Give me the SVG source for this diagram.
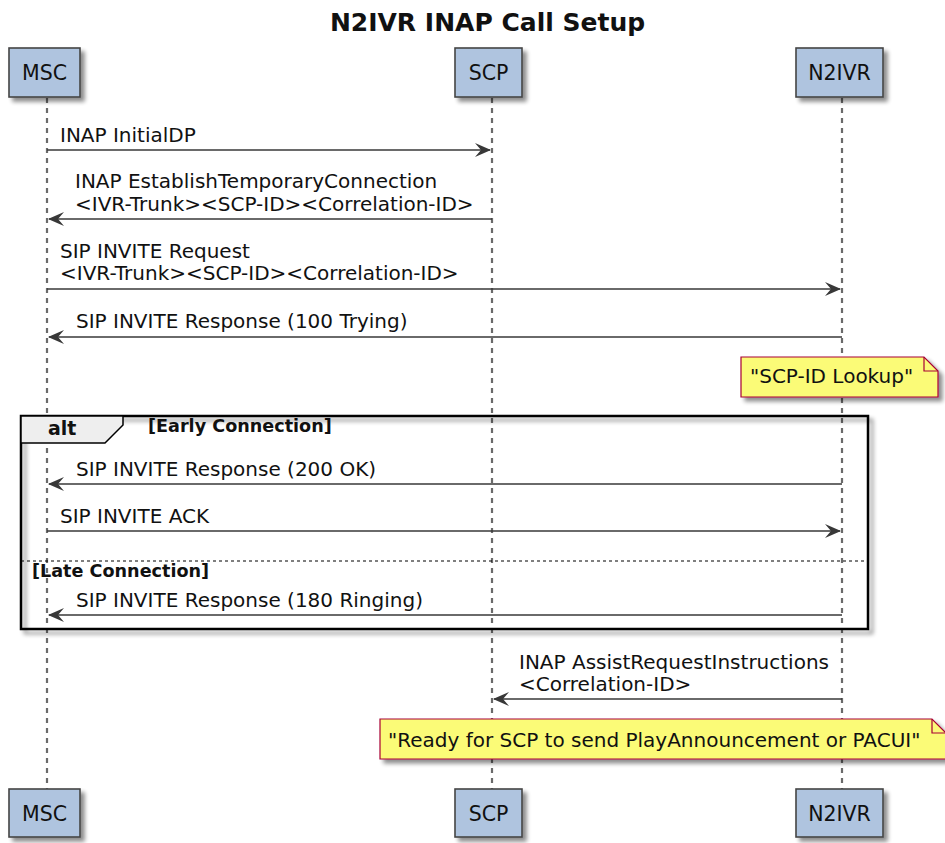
<svg xmlns="http://www.w3.org/2000/svg" width="945" height="843" viewBox="0 0 945 843">
<style>
text{font-family:"DejaVu Sans","Verdana",sans-serif;fill:#111}
.msg{font-size:20px}
.part{font-size:20.5px;text-anchor:middle}
.title{font-size:25px;font-weight:bold;text-anchor:middle}
.grp{font-size:17.6px;font-weight:bold}
.box{fill:#AFC4DF;stroke:#454545;stroke-width:1.6}
.life{stroke:#6a6a6a;stroke-width:2.2;stroke-dasharray:5,5;fill:none}
.line{stroke:#383838;stroke-width:1.5;fill:none}
.head{fill:#383838}
.note{fill:#FBFB77;stroke:#A80036;stroke-width:1.2}
</style>
<defs>
<filter id="sh" x="-20%" y="-20%" width="150%" height="160%">
<feGaussianBlur in="SourceAlpha" stdDeviation="2"/>
<feOffset dx="4" dy="4" result="b"/>
<feComponentTransfer><feFuncA type="linear" slope="0.45"/></feComponentTransfer>
<feMerge><feMergeNode/><feMergeNode in="SourceGraphic"/></feMerge>
</filter>
</defs>
<rect width="945" height="843" fill="#fff"/>
<text class="title" x="487.5" y="31">N2IVR INAP Call Setup</text>

<g id="lifelines">
<line class="life" x1="47" y1="98" x2="47" y2="789"/>
<line class="life" x1="492" y1="98" x2="492" y2="789"/>
<line class="life" x1="842" y1="98" x2="842" y2="789"/>
</g>

<g id="alt-frame">
<rect x="21" y="416" width="847" height="213" fill="none" stroke="#000" stroke-width="2.5" filter="url(#sh)"/>
<polygon points="21,416 123,416 123,425 105,443 21,443" fill="#EEEEEE" stroke="#000" stroke-width="1.5"/>
<text class="grp" x="48" y="435" style="font-size:19px">alt</text>
<text class="grp" x="148" y="432">[Early Connection]</text>
<line x1="21" y1="561" x2="868" y2="561" stroke="#000" stroke-width="1.2" stroke-dasharray="3,3"/>
<text class="grp" x="32" y="577">[Late Connection]</text>
</g>

<g id="participant-MSC">
<rect class="box" x="9" y="48" width="71" height="49" filter="url(#sh)"/>
<text class="part" x="44.5" y="80">MSC</text>
<rect class="box" x="9" y="789" width="71" height="48" filter="url(#sh)"/>
<text class="part" x="44.5" y="821">MSC</text>
</g>
<g id="participant-SCP">
<rect class="box" x="455" y="48" width="67" height="49" filter="url(#sh)"/>
<text class="part" x="488.5" y="80">SCP</text>
<rect class="box" x="455" y="789" width="67" height="48" filter="url(#sh)"/>
<text class="part" x="488.5" y="821">SCP</text>
</g>
<g id="participant-N2IVR">
<rect class="box" x="796" y="48" width="87" height="49" filter="url(#sh)"/>
<text class="part" x="839.5" y="80">N2IVR</text>
<rect class="box" x="796" y="789" width="87" height="48" filter="url(#sh)"/>
<text class="part" x="839.5" y="821">N2IVR</text>
</g>

<g id="connectors">
<line class="line" x1="47" y1="150" x2="490" y2="150"/>
<polygon class="head" points="491,150 475,143 481,150 475,157"/>
<text class="msg" x="60" y="142">INAP InitialDP</text>

<line class="line" x1="492" y1="219" x2="49" y2="219"/>
<polygon class="head" points="48,219 64,212 58,219 64,226"/>
<text class="msg" x="75" y="188">INAP EstablishTemporaryConnection</text>
<text class="msg" x="75" y="211">&lt;IVR-Trunk&gt;&lt;SCP-ID&gt;&lt;Correlation-ID&gt;</text>

<line class="line" x1="47" y1="289" x2="840" y2="289"/>
<polygon class="head" points="841,289 825,282 831,289 825,296"/>
<text class="msg" x="60" y="258">SIP INVITE Request</text>
<text class="msg" x="60" y="280">&lt;IVR-Trunk&gt;&lt;SCP-ID&gt;&lt;Correlation-ID&gt;</text>

<line class="line" x1="842" y1="337" x2="49" y2="337"/>
<polygon class="head" points="48,337 64,330 58,337 64,344"/>
<text class="msg" x="76" y="328">SIP INVITE Response (100 Trying)</text>

<line class="line" x1="842" y1="484" x2="49" y2="484"/>
<polygon class="head" points="48,484 64,477 58,484 64,491"/>
<text class="msg" x="76" y="476">SIP INVITE Response (200 OK)</text>

<line class="line" x1="47" y1="531" x2="840" y2="531"/>
<polygon class="head" points="841,531 825,524 831,531 825,538"/>
<text class="msg" x="60" y="523">SIP INVITE ACK</text>

<line class="line" x1="842" y1="615" x2="49" y2="615"/>
<polygon class="head" points="48,615 64,608 58,615 64,622"/>
<text class="msg" x="76" y="607">SIP INVITE Response (180 Ringing)</text>

<line class="line" x1="842" y1="699" x2="494" y2="699"/>
<polygon class="head" points="493,699 509,692 503,699 509,706"/>
<text class="msg" x="519" y="669">INAP AssistRequestInstructions</text>
<text class="msg" x="519" y="691">&lt;Correlation-ID&gt;</text>
</g>

<g id="note-scp-id-lookup">
<path class="note" d="M741,357 H924 L938,371 V397 H741 Z" filter="url(#sh)"/>
<path d="M924,357 V371 H938" fill="none" stroke="#A80036" stroke-width="1.2"/>
<text class="msg" x="750" y="383">"SCP-ID Lookup"</text>
</g>

<g id="note-ready">
<path class="note" d="M380,719 H932 L946,733 V759 H380 Z" filter="url(#sh)"/>
<path d="M932,719 V733 H946" fill="none" stroke="#A80036" stroke-width="1.2"/>
<text class="msg" x="388" y="747">"Ready for SCP to send PlayAnnouncement or PACUI"</text>
</g>
</svg>
